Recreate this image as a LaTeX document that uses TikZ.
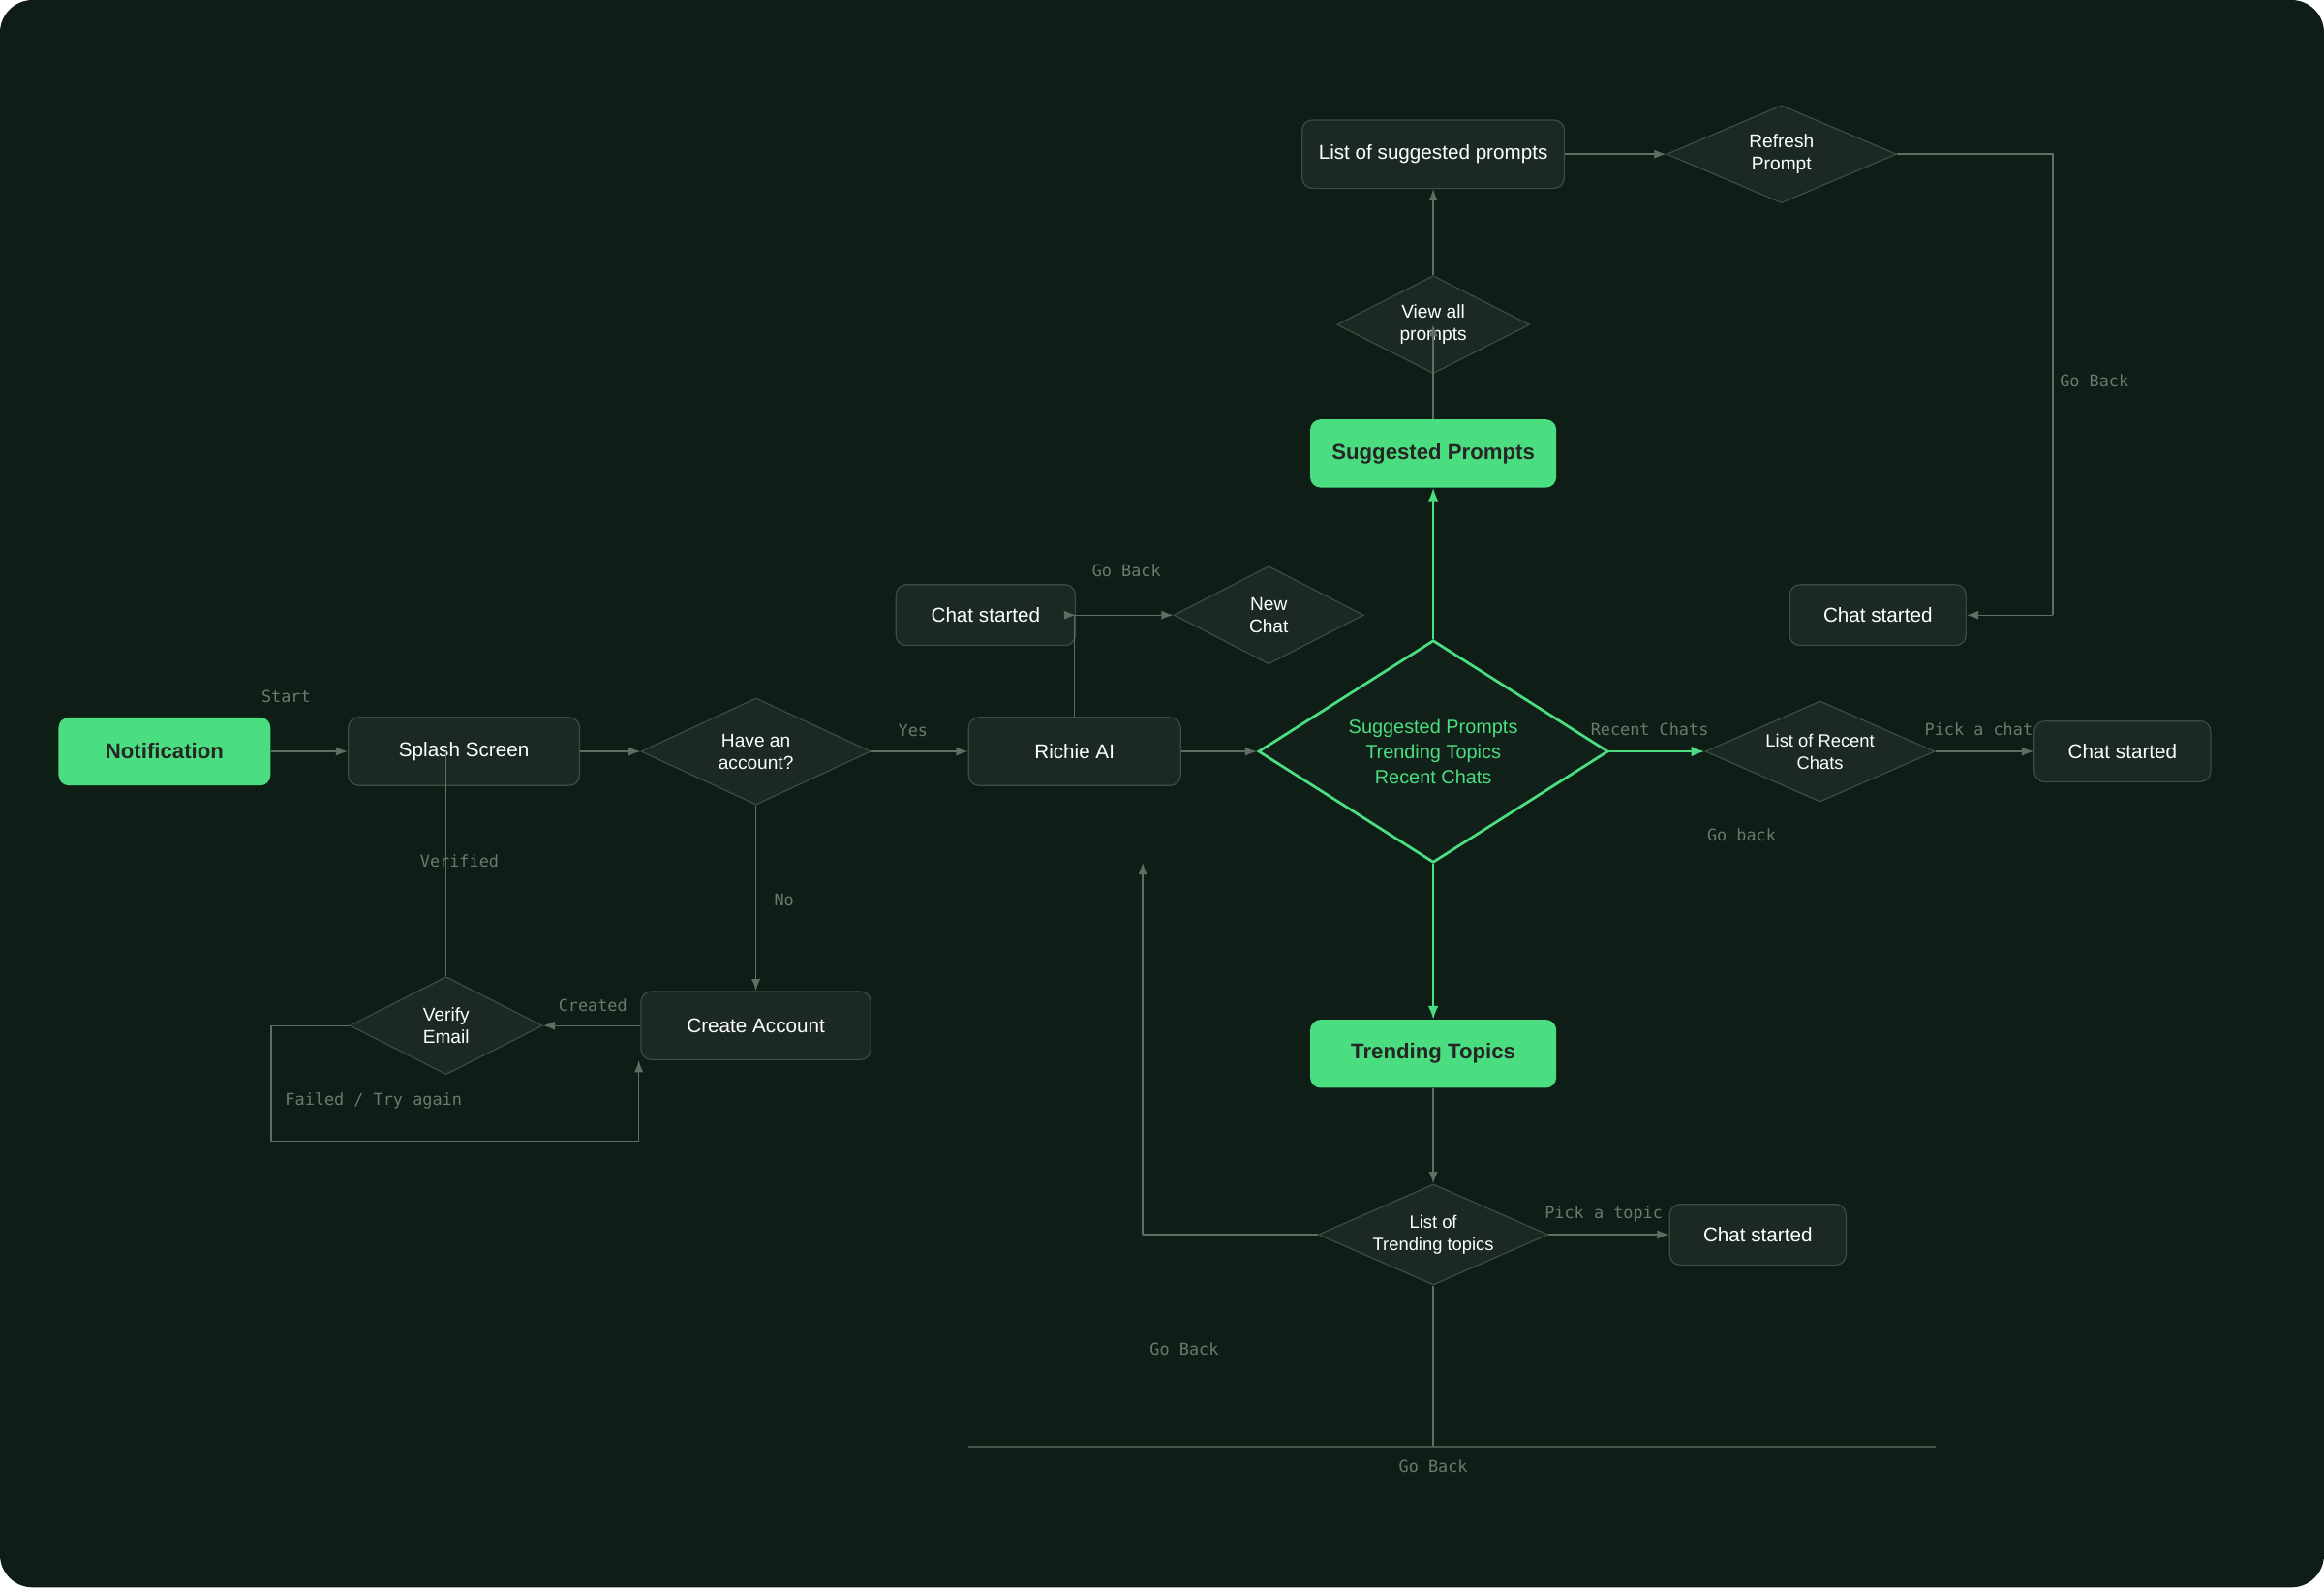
\documentclass[tikz,border=0pt]{standalone}
\usepackage{fontspec}
\setmainfont{Liberation Sans}
\setmonofont{DejaVu Sans Mono}
\usetikzlibrary{shapes.geometric,arrows.meta}
\definecolor{bg}{HTML}{0E1E16}
\definecolor{nodefill}{HTML}{1B2922}
\definecolor{nodeline}{HTML}{3C4C43}
\definecolor{gr}{HTML}{4ADE80}
\definecolor{ln}{HTML}{5E6E64}
\definecolor{lbl}{HTML}{6A7A70}
\begin{document}
\begin{tikzpicture}[x=1pt,y=-1pt,
  box/.style={draw=nodeline,fill=nodefill,rounded corners=7pt,text=white,font=\fontsize{13.5}{16}\selectfont,inner sep=0pt,line width=0.8pt},
  gbox/.style={fill=gr,rounded corners=7pt,text=black!85,font=\fontsize{14.5}{17}\selectfont\bfseries,inner sep=0pt},
  dia/.style={diamond,draw=nodeline,fill=nodefill,text=white!85,font=\fontsize{12.5}{15}\selectfont,align=center,inner sep=-3pt,line width=0.8pt,aspect=2.3},
  conn/.style={draw=ln,line width=0.9pt},
  arr/.style={conn,-{Latex[length=8pt,width=6pt]}},
  garr/.style={draw=gr,line width=1.4pt,-{Latex[length=9pt,width=7pt]}},
  lab/.style={text=lbl,font=\ttfamily\fontsize{11}{13}\selectfont}]
\useasboundingbox (0,0) rectangle (1568,1071);
\fill[white] (0,0) rectangle (1568,1071);
\fill[bg,rounded corners=22pt] (0,0) rectangle (1568,1071);

\node[gbox,minimum width=143,minimum height=46] (notif) at (111,507) {Notification};
\node[box,minimum width=156,minimum height=46] (splash) at (313,507) {Splash Screen};
\node[dia,minimum width=155,minimum height=72,aspect=2.15] (have) at (510,507) {Have an\\account?};
\node[box,minimum width=143,minimum height=46] (richie) at (725,507) {Richie AI};
\node[diamond,draw=gr,fill=bg!80!nodefill,line width=1.8pt,minimum width=236,minimum height=150,aspect=1.57,text=gr,align=center,font=\fontsize{13}{17}\selectfont,inner sep=0pt] (hub) at (967,507) {Suggested Prompts\\Trending Topics\\Recent Chats};
\node[box,minimum width=121,minimum height=41] (chat1) at (665,415) {Chat started};
\node[dia,minimum width=128,minimum height=66,aspect=1.94] (newchat) at (856,415) {New\\Chat};
\node[gbox,minimum width=166,minimum height=46] (sugg) at (967,306) {Suggested Prompts};
\node[dia,minimum width=130,minimum height=66,aspect=1.97] (viewall) at (967,219) {View all\\prompts};
\node[box,minimum width=177,minimum height=46] (list) at (967,104) {List of suggested prompts};
\node[dia,minimum width=155,minimum height=66] (refresh) at (1202,104) {Refresh\\Prompt};
\node[box,minimum width=119,minimum height=41] (chat2) at (1267,415) {Chat started};
\node[dia,minimum width=155,minimum height=68,font=\fontsize{12}{15}\selectfont] (recent) at (1228,507) {List of Recent\\Chats};
\node[box,minimum width=119,minimum height=41] (chat3) at (1432,507) {Chat started};
\node[gbox,minimum width=166,minimum height=46] (trend) at (967,711) {Trending Topics};
\node[dia,minimum width=155,minimum height=68,font=\fontsize{12}{15}\selectfont] (listtrend) at (967,833) {List of\\Trending topics};
\node[box,minimum width=119,minimum height=41] (chat4) at (1186,833) {Chat started};
\node[box,minimum width=155,minimum height=46] (create) at (510,692) {Create Account};
\node[dia,minimum width=130,minimum height=66,aspect=1.97] (verify) at (301,692) {Verify\\Email};

\coordinate (rtop) at (725,415);
\coordinate (fl1) at (183,692);
\coordinate (fl2) at (183,770);
\coordinate (fl3) at (431,770);
\coordinate (rb1) at (1385,104);
\coordinate (rb2) at (1385,415);
\coordinate (gb1) at (771,833);
\coordinate (gb2) at (771,582);
\coordinate (bt) at (967,976);
\coordinate (bl) at (653,976);
\coordinate (br) at (1306,976);

\draw[arr] (notif) -- (splash);
\draw[arr] (splash) -- (have);
\draw[arr] (have) -- (richie);
\draw[arr] (have) -- (create);
\draw[arr] (create) -- (verify);
\draw[conn] (verify.north) -- (301,507);
\draw[conn] (verify.west) -- (fl1) -- (fl2) -- (fl3);
\draw[arr] (fl3) -- (create.south west -| fl3);
\draw[arr] (richie) -- (hub);
\draw[conn] (richie.north) -- (rtop);
\draw[arr] (rtop) -- (chat1);
\draw[arr] (rtop) -- (newchat);
\draw[garr] (hub.north) -- (sugg);
\draw[arr] (sugg) -- (viewall.center);
\draw[arr] (viewall.north) -- (list);
\draw[arr] (list) -- (refresh);
\draw[conn] (refresh.east) -- (rb1) -- (rb2);
\draw[arr] (rb2) -- (chat2);
\draw[garr] (hub.east) -- (recent);
\draw[arr] (recent) -- (chat3);
\draw[garr] (hub.south) -- (trend);
\draw[arr] (trend) -- (listtrend);
\draw[arr] (listtrend) -- (chat4);
\draw[conn] (listtrend.west) -- (gb1);
\draw[arr] (gb1) -- (gb2);
\draw[conn] (listtrend.south) -- (bt);
\draw[draw=ln!70!bg,line width=0.8pt] (bl) -- (br);

\node[lab] at (193,470) {Start};
\node[lab] at (616,493) {Yes};
\node[lab] at (529,607) {No};
\node[lab] at (400,678) {Created};
\node[lab] at (310,581) {Verified};
\node[lab] at (252,743) {Failed / Try again};
\node[lab] at (760,385) {Go Back};
\node[lab] at (1413,257) {Go Back};
\node[lab] at (1113,492) {Recent Chats};
\node[lab] at (1335,492) {Pick a chat};
\node[lab] at (1175,563) {Go back};
\node[lab] at (1082,819) {Pick a topic};
\node[lab] at (799,910) {Go Back};
\node[lab] at (967,989) {Go Back};
\end{tikzpicture}
\end{document}
